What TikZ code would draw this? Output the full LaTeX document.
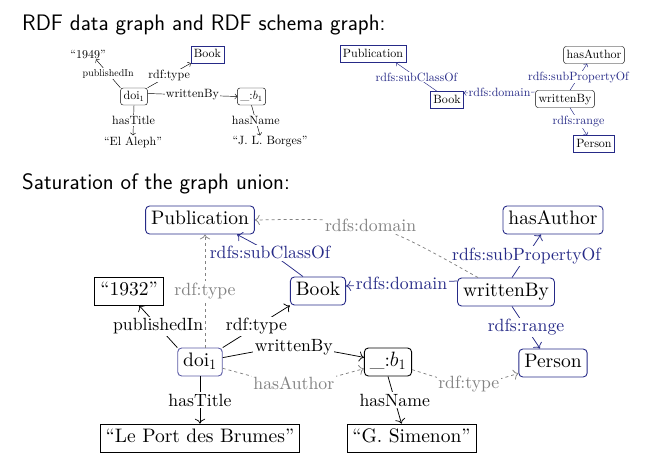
\documentclass[tikz,border=0pt]{standalone}
\usepackage{fontspec}
\setmainfont{lmroman10-regular}[Extension=.otf,ItalicFont=lmroman10-italic,BoldFont=lmroman10-bold,Ligatures=TeX]
\usetikzlibrary{arrows.meta}
\definecolor{schemablue}{RGB}{38,42,135}
\definecolor{doiblue}{RGB}{90,90,165}
\definecolor{entailgray}{RGB}{130,130,130}

\tikzstyle{heading} = [anchor=base west,inner sep=0pt,font=\fontsize{22.4}{26}\selectfont\sffamily]
\tikzstyle{smallres} = [draw,rounded corners=2.5pt,inner xsep=3pt,inner ysep=3pt,text height=8.5pt,text depth=2.5pt,font=\fontsize{12}{14}\selectfont]
\tikzstyle{smallclass} = [smallres,draw=schemablue,sharp corners]
\tikzstyle{smalllit} = [inner sep=1pt,font=\fontsize{12}{14}\selectfont]
\tikzstyle{smalllabel} = [fill=white,inner sep=1pt,font=\fontsize{12}{14}\selectfont]
\tikzstyle{schemalabel} = [smalllabel,text=schemablue]
\tikzstyle{bigres} = [draw,rounded corners=4pt,line width=0.9pt,inner xsep=5.5pt,inner ysep=4.75pt,text height=14pt,text depth=4.5pt,font=\fontsize{19.5}{22}\selectfont]
\tikzstyle{bigclass} = [bigres,draw=schemablue]
\tikzstyle{biglit} = [bigres,sharp corners,line width=0.7pt]
\tikzstyle{biglabel} = [fill=white,inner sep=1.5pt,font=\fontsize{17.7}{20}\selectfont]
\tikzstyle{bigschema} = [biglabel,text=schemablue]
\tikzstyle{biggray} = [biglabel,text=entailgray]
\tikzstyle{bigedge} = [-{To[scale=1.5]},line width=0.75pt]
\tikzstyle{entailed} = [bigedge,entailgray,dashed]

\begin{document}
\begin{tikzpicture}[x=1pt,y=-1pt,line width=0.45pt]
\useasboundingbox (0,0) rectangle (667,458);
\node[heading] (title1) at (22,30) {RDF data graph and RDF schema graph:};
\node[heading] (title2) at (22,189.5) {Saturation of the graph union:};

% data graph
\node[smalllit] (a1949) at (88,54) {``1949''};
\node[smallclass] (abook) at (207.5,54.5) {Book};
\node[smallres] (adoi) at (134,96.5) {doi$_1$};
\node[smallres] (ab1) at (251.5,96.5) {\_:$b_1$};
\node[smalllit] (aaleph) at (133,142) {``El Aleph''};
\node[smalllit] (aborges) at (270,142) {``J. L. Borges''};
\draw[->] (adoi.north west) -- node[smalllabel,font=\fontsize{10}{12}\selectfont] {publishedIn} ([xshift=8pt]a1949.south);
\draw[->] (adoi.north east) -- node[smalllabel] {rdf:type} (abook.south west);
\draw[->] ([yshift=3pt]adoi.east) -- node[smalllabel] {writtenBy} (ab1.west);
\draw[->] (adoi.south) -- node[smalllabel] {hasTitle} (aaleph.north);
\draw[->] (ab1.south) -- node[smalllabel] {hasName} ([xshift=-10pt]aborges.north);

% schema graph
\node[smallclass] (spub) at (373,54) {Publication};
\node[smallclass] (sbook) at (447,100) {Book};
\node[smallres] (swb) at (565,99) {writtenBy};
\node[smallres] (sha) at (594,55) {hasAuthor};
\node[smallclass] (sperson) at (594,144) {Person};
\draw[->,schemablue] ([xshift=-10pt]sbook.north) -- node[schemalabel] {rdfs:subClassOf} ([xshift=23pt]spub.south);
\draw[->,schemablue] ([yshift=7pt]swb.west) -- node[schemalabel] {rdfs:domain} ([yshift=7pt]sbook.east);
\draw[->,schemablue] ([xshift=5pt]swb.north) -- node[schemalabel] {rdfs:subPropertyOf} ([xshift=-7pt]sha.south);
\draw[->,schemablue] ([xshift=5pt]swb.south) -- node[schemalabel] {rdfs:range} ([xshift=-7pt]sperson.north);

% saturated union
\node[bigclass] (pub) at (200,220) {Publication};
\node[bigclass] (hasauthor) at (553,220) {hasAuthor};
\node[bigclass] (book) at (318,291) {Book};
\node[bigclass] (wb) at (506,292) {writtenBy};
\node[biglit] (lit1932) at (129,291) {``1932''};
\node[bigres,draw=doiblue] (doi) at (200,362) {doi$_1$};
\node[bigres] (b1) at (388,362) {\_:$b_1$};
\node[bigclass] (person) at (553,363) {Person};
\node[biglit] (title) at (200,438) {``Le Port des Brumes''};
\node[biglit] (name) at (411.5,438) {``G. Simenon''};

\draw[bigedge,schemablue] ([xshift=-15pt]book.north) .. controls (270,252) .. node[bigschema] {rdfs:subClassOf} ([xshift=37pt]pub.south);
\draw[bigedge,schemablue] ([yshift=11pt]wb.west) -- node[bigschema] {rdfs:domain} ([yshift=5pt]book.east);
\draw[bigedge,schemablue] ([xshift=6pt]wb.north) -- node[bigschema] {rdfs:subPropertyOf} ([xshift=-12pt]hasauthor.south);
\draw[bigedge,schemablue] ([xshift=6pt]wb.south) -- node[bigschema] {rdfs:range} ([xshift=-13pt]person.north);
\draw[entailed] ([xshift=-28pt]wb.north) .. controls (372,218) .. node[biggray] {rdfs:domain} (pub.east);
\draw[entailed] ([xshift=5pt]doi.north) -- node[biggray] {rdf:type} ([xshift=5pt]pub.south);
\draw[bigedge] (doi.north west) -- node[biglabel] {publishedIn} ([xshift=10pt]lit1932.south);
\draw[bigedge] (doi.north east) -- node[biglabel] {rdf:type} (book.south west);
\draw[bigedge] (doi) .. controls (294,344) .. node[biglabel] {writtenBy} (b1);
\draw[entailed] (doi) .. controls (294,388) .. node[biggray] {hasAuthor} (b1);
\draw[entailed] (b1) .. controls (470,388) .. node[biggray] {rdf:type} (person);
\draw[bigedge] (doi.south) -- node[biglabel] {hasTitle} (title.north);
\draw[bigedge] (b1.south) -- node[biglabel] {hasName} ([xshift=-10pt]name.north);
\end{tikzpicture}
\end{document}
